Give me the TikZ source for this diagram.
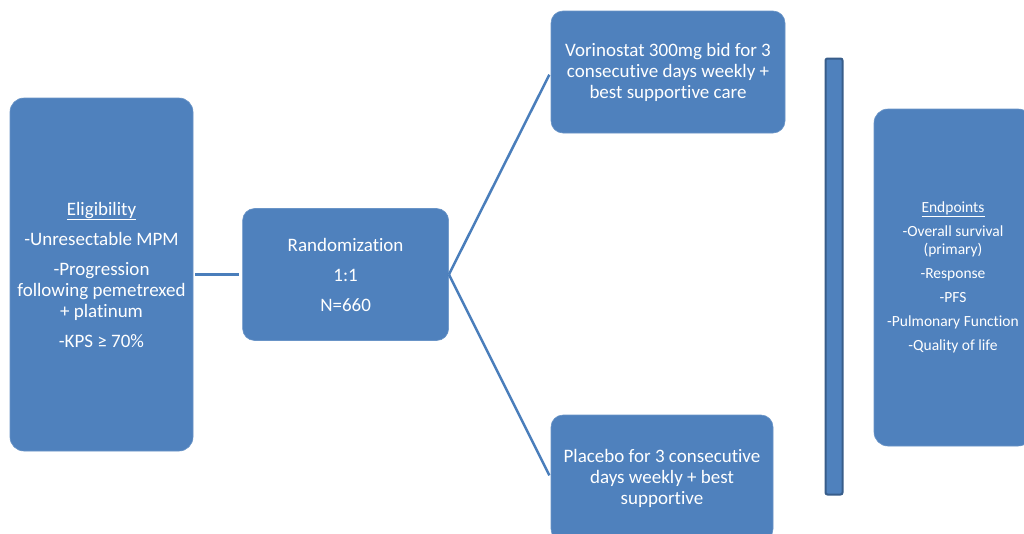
\documentclass[tikz,border=0pt]{standalone}
\usepackage{fontspec}
\setmainfont{Carlito}[Ligatures=NoCommon]
\usepackage{tikz}
\usetikzlibrary{positioning}
\definecolor{boxblue}{RGB}{79,129,189}
\definecolor{lineblue}{RGB}{74,126,187}
\definecolor{barrim}{RGB}{56,93,138}

\tikzset{
  trialbox/.style={fill=boxblue, draw=boxblue!85!white, line width=0.6pt, text=white, align=center, inner sep=0pt, rounded corners=14pt, font=\fontsize{19}{21}\selectfont},
  link/.style={draw=lineblue, line width=2.5pt, shorten <=2pt, shorten >=3pt}
}

\begin{document}
\begin{tikzpicture}[x=1pt,y=1pt]
\useasboundingbox (0,0) rectangle (1024,-533);
\clip (0,0) rectangle (1024,-533);
\fill[white] (0,0) rectangle (1024,-533);
% boxes
\node[trialbox, minimum width=183pt, minimum height=353pt] (elig) at (101.5,-274.5)
  {\underline{Eligibility}\\[9pt] -Unresectable MPM\\[9pt] -Progression\\ following pemetrexed\\ + platinum\\[9pt] -KPS ≥ 70\%};
\node[trialbox, right=49pt of elig, minimum width=206pt, minimum height=132pt, rounded corners=12pt] (rand)
  {Randomization\\[9pt] 1:1\\[9pt] N=660};
\node[trialbox, minimum width=234pt, minimum height=122pt, rounded corners=12pt] (vori) at (668,-72)
  {Vorinostat 300mg bid for 3\\ consecutive days weekly +\\ best supportive care};
\node[trialbox, minimum width=222pt, minimum height=126pt, rounded corners=12pt] (plac) at (662,-478)
  {Placebo for 3 consecutive\\ days weekly + best\\ supportive};
\node[fill=boxblue, draw=barrim, line width=2pt, rounded corners=2pt, minimum width=17pt, minimum height=436pt, inner sep=0pt] (bar) at (834,-276.5) {};
\node[trialbox, minimum width=158pt, minimum height=337pt, font=\fontsize{15.5}{18}\selectfont] (endp) at (953,-277.5)
  {\underline{Endpoints}\\[6pt] -Overall survival\\ (primary)\\[6pt] -Response\\[6pt] -PFS\\[6pt] -Pulmonary Function\\[6pt] -Quality of life};
% connectors
\draw[link] (elig.east) -- (rand.west);
\draw[link, shorten <=0pt] (rand.east) -- (vori.west);
\draw[link, shorten <=0pt] (rand.east) -- (plac.west);
\end{tikzpicture}
\end{document}
